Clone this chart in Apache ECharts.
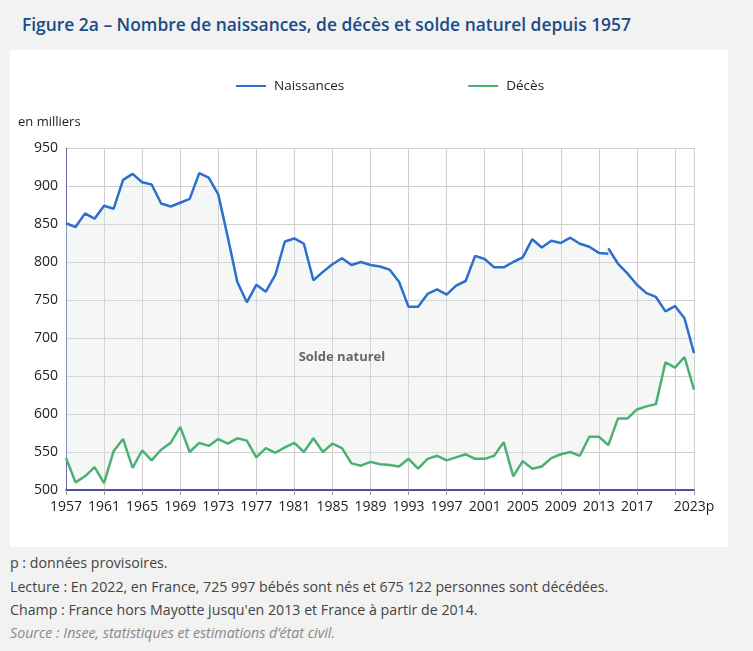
<!DOCTYPE html>
<html>
<head>
<meta charset="utf-8">
<script src="https://cdn.jsdelivr.net/npm/echarts@6/dist/echarts.min.js"></script>
<style>
  body { margin: 0; background: #f2f2f2; font-family: "Open Sans", sans-serif; width: 753px; height: 651px; overflow: hidden; position: relative; }
  #title { position: absolute; left: 22px; top: 12px; font-size: 17.4px; font-weight: 600; color: #1b4c85; white-space: nowrap; }
  #panel { position: absolute; left: 10px; top: 50px; width: 718px; height: 497px; background: #fff; }
  #chart { width: 718px; height: 497px; }
  .note { position: absolute; left: 10px; font-size: 14.2px; color: #444; white-space: nowrap; }
  .src { font-style: italic; color: #888; }
</style>
</head>
<body>
<div id="title">Figure 2a – Nombre de naissances, de décès et solde naturel depuis 1957</div>
<div id="panel"><div id="chart"></div></div>
<div class="note" style="top:553px">p : données provisoires.</div>
<div class="note" style="top:577px">Lecture : En 2022, en France, 725 997 bébés sont nés et 675 122 personnes sont décédées.</div>
<div class="note" style="top:600px">Champ : France hors Mayotte jusqu'en 2013 et France à partir de 2014.</div>
<div class="note src" style="top:623px">Source : Insee, statistiques et estimations d’état civil.</div>
<script>
// années 1957 à 2023 (2023 provisoire)
const years = ['1957','1958','1959','1960','1961','1962','1963','1964','1965','1966',
  '1967','1968','1969','1970','1971','1972','1973','1974','1975','1976',
  '1977','1978','1979','1980','1981','1982','1983','1984','1985','1986',
  '1987','1988','1989','1990','1991','1992','1993','1994','1995','1996',
  '1997','1998','1999','2000','2001','2002','2003','2004','2005','2006',
  '2007','2008','2009','2010','2011','2012','2013','2014','2015','2016',
  '2017','2018','2019','2020','2021','2022','2023p']

// naissances, France hors Mayotte (1957-2014), en milliers
const birthsOld = [851, 846, 864, 857, 874, 870, 908, 916, 905, 902,
  877, 873, 878, 883, 917, 911, 889, 833, 774, 747,
  770, 761, 783, 827, 831, 824, 776, 787, 797, 805,
  796, 800, 796, 794, 790, 774, 741, 741, 758, 764,
  757, 769, 775, 808, 804, 793, 793, 800, 806, 830,
  819, 828, 825, 832, 824, 820, 812, 811]

// naissances, France (2014-2023)
const birthsNew = [818, 798, 785, 770, 759, 754, 735, 742, 726, 680]

// décès, en milliers
const deaths = [542, 510, 518, 530, 509, 551, 567, 529, 552, 539,
  553, 562, 583, 550, 562, 558, 567, 561, 568, 565,
  543, 555, 549, 556, 562, 550, 568, 550, 561, 555,
  535, 532, 537, 534, 533, 531, 541, 528, 541, 545,
  539, 543, 547, 541, 541, 545, 563, 518, 538, 528,
  531, 542, 547, 550, 545, 570, 570, 559, 594, 594,
  606, 610, 613, 668, 661, 675, 632]

const births = birthsOld.slice(0, 57).concat(birthsNew)
const birthsOldSeries = birthsOld.concat(new Array(years.length - birthsOld.length).fill('-'))
const birthsNewSeries = new Array(years.length - birthsNew.length).fill('-').concat(birthsNew)
const gap = births.map((b, i) => b - deaths[i])

const blue = '#2c6fcd'
const green = '#4bb173'
const gridColor = '#cfcfcf'
const lastIdx = years.length - 1
const showTick = (i) => i % 4 === 0 || i === lastIdx

const chart = echarts.init(document.getElementById('chart'))
chart.setOption({
  animation: false,
  textStyle: { fontFamily: 'Open Sans' },
  legend: {
    top: 24,
    left: 221,
    itemGap: 124,
    itemWidth: 30,
    itemHeight: 2,
    icon: 'rect',
    textStyle: { fontSize: 13.5, color: '#222', padding: [0, 0, 0, 3] },
    data: [
      { name: 'Naissances', itemStyle: { color: blue } },
      { name: 'Décès', itemStyle: { color: green } }
    ]
  },
  grid: { left: 56, right: 34, top: 98, bottom: 57 },
  xAxis: {
    type: 'category',
    data: years,
    boundaryGap: false,
    axisLine: { lineStyle: { color: '#1f1f8a', width: 1.5 } },
    axisTick: { interval: (i) => showTick(i), length: 5, lineStyle: { color: '#999' } },
    axisLabel: {
      interval: (i) => (i % 4 === 0 && i < 64) || i === lastIdx,
      fontSize: 14, color: '#222', margin: 10
    },
    splitLine: { show: true, interval: (i) => showTick(i), lineStyle: { color: gridColor } }
  },
  yAxis: {
    type: 'value',
    min: 500,
    max: 950,
    interval: 50,
    name: 'en milliers',
    nameLocation: 'end',
    nameGap: 19,
    nameTextStyle: { align: 'left', padding: [0, 0, 0, -48], fontSize: 13, color: '#222' },
    axisLine: { show: true, lineStyle: { color: '#6a6ab3' } },
    axisTick: { show: false },
    axisLabel: { fontSize: 14, color: '#222', margin: 8 },
    splitLine: { lineStyle: { color: gridColor } }
  },
  series: [
    {
      name: 'base', type: 'line', stack: 'solde', data: deaths,
      symbol: 'none', lineStyle: { opacity: 0 }, silent: true
    },
    {
      name: 'Solde naturel', type: 'line', stack: 'solde', data: gap,
      symbol: 'none', lineStyle: { opacity: 0 }, silent: true,
      areaStyle: { color: 'rgba(225,230,228,0.45)' }
    },
    {
      name: 'Naissances', type: 'line', data: birthsOldSeries,
      symbol: 'none', lineStyle: { color: blue, width: 2.5 }, itemStyle: { color: blue },
      markPoint: {
        symbol: 'circle',
        symbolSize: 1,
        itemStyle: { color: 'rgba(0,0,0,0)' },
        label: { show: true, position: 'inside', formatter: 'Solde naturel', fontSize: 13, fontWeight: 'bold', color: '#666' },
        data: [{ coord: ['1986', 675] }]
      }
    },
    {
      name: 'Naissances', type: 'line', data: birthsNewSeries,
      symbol: 'none', lineStyle: { color: blue, width: 2.5 }, itemStyle: { color: blue }
    },
    {
      name: 'Décès', type: 'line', data: deaths,
      symbol: 'none', lineStyle: { color: green, width: 2.5 }, itemStyle: { color: green }
    }
  ]
})
</script>
</body>
</html>
